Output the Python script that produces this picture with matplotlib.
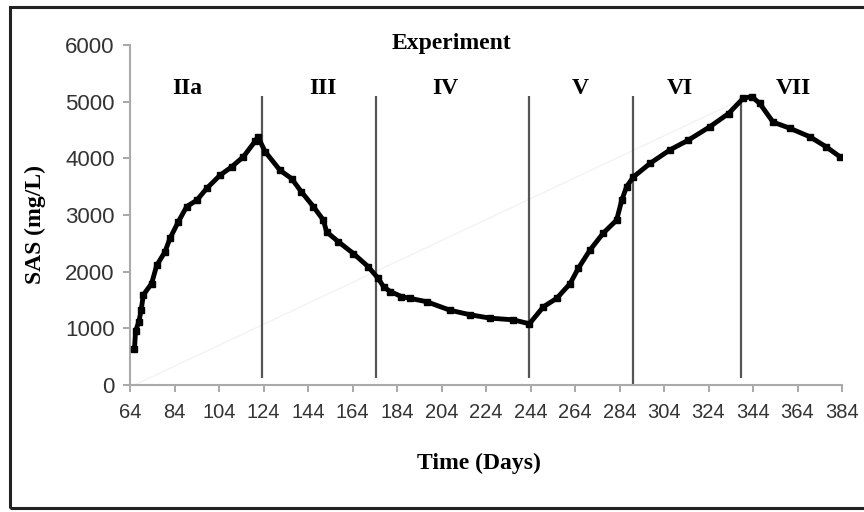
import numpy as np
import matplotlib.pyplot as plt
from matplotlib.patches import Rectangle

days = [66, 66.5, 68, 69, 70, 73.7, 76, 79.7, 82, 85.7, 89.5, 94, 98.5, 104.4,
        109.7, 115, 120.2, 121.5, 124.7, 131.4, 136.7, 141, 146.4, 150.9, 152.4,
        157.6, 164.4, 171, 175.6, 178, 181, 186, 189.8, 197.3, 207.8, 216.8,
        225.8, 236.3, 243.5, 249.8, 255.8, 261.8, 265.5, 270.7, 276.7, 282.7,
        285, 287.2, 290.2, 297.7, 306.7, 314.9, 324.7, 333, 339.6, 343.4, 347,
        353, 360.6, 369.6, 377, 383]
sas = [630, 950, 1120, 1320, 1590, 1790, 2110, 2350, 2590, 2880, 3150, 3260,
       3470, 3700, 3850, 4030, 4300, 4380, 4120, 3790, 3640, 3410, 3150, 2910,
       2700, 2530, 2320, 2090, 1880, 1730, 1650, 1560, 1530, 1470, 1320, 1240,
       1180, 1150, 1080, 1380, 1530, 1790, 2060, 2380, 2680, 2910, 3260, 3500,
       3670, 3910, 4150, 4320, 4560, 4790, 5060, 5090, 4970, 4640, 4530, 4380,
       4200, 4030]

phase_bounds = [123.3, 174.6, 243.3, 290, 338.6]
phase_names = ['IIa', 'III', 'IV', 'V', 'VI', 'VII']
phase_label_x = [89.6, 150.7, 205.6, 266.2, 311.2, 362]

trend_x = [66, 341]
trend_y = [0, 5080]

xticks = np.arange(64, 385, 20)
yticks = np.arange(0, 6001, 1000)

fig = plt.figure(figsize=(8.64, 5.12), dpi=100)
fig.patches.append(Rectangle((10 / 864, 4 / 512), 1.0, 501 / 512, transform=fig.transFigure,
                             fill=False, edgecolor='#222222', linewidth=2.2))

ax = fig.add_axes([130 / 864, 1 - 385 / 512, 712 / 864, 340 / 512])
ax.plot(trend_x, trend_y, color='#f3f3f3', linewidth=1, zorder=1)
for i, b in enumerate(phase_bounds):
    bottom = -180 if i == 3 else 120
    ax.vlines(b, bottom, 5100, color='#555555', linewidth=1.6, zorder=2)
ax.plot(days, sas, color='black', linewidth=3.5, marker='s', markersize=4.5, zorder=3)

for name, x in zip(phase_names, phase_label_x):
    ax.text(x, 5230, name, fontsize=17, fontweight='bold', family='Liberation Serif',
            ha='center', va='center')

ax.set_xlim(64, 384)
ax.set_ylim(0, 6000)
ax.set_xticks(xticks)
ax.set_yticks(yticks)
ax.tick_params(axis='x', labelsize=14.5, colors='#999999', labelcolor='#333333',
               direction='out', length=5, width=1.2, pad=8)
ax.tick_params(axis='y', labelsize=16, colors='#999999', labelcolor='#333333',
               direction='out', length=5, width=1.2, pad=6)
for lab in ax.get_xticklabels() + ax.get_yticklabels():
    lab.set_family('Liberation Sans')
for s in ['top', 'right']:
    ax.spines[s].set_visible(False)
for s in ['left', 'bottom']:
    ax.spines[s].set_color('#aaaaaa')
    ax.spines[s].set_linewidth(1.5)

fig.text(451 / 864, 1 - 43 / 512, 'Experiment', fontsize=17, fontweight='bold',
         family='Liberation Serif', ha='center', va='center')
fig.text(479 / 864, 1 - 463 / 512, 'Time (Days)', fontsize=17, fontweight='bold',
         family='Liberation Serif', ha='center', va='center')
fig.text(35 / 864, 1 - 224 / 512, 'SAS (mg/L)', fontsize=17, fontweight='bold',
         family='Liberation Serif', ha='center', va='center', rotation=90)

fig.savefig('out.png', dpi=100)
